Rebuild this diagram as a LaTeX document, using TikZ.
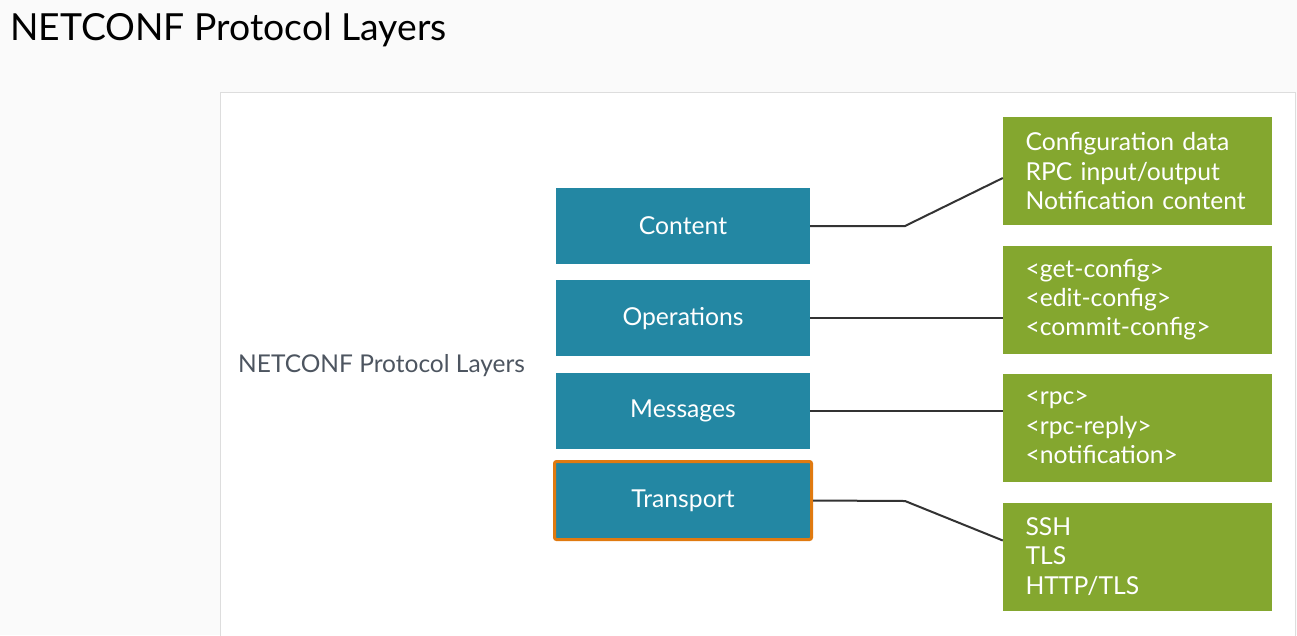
\documentclass[tikz,border=0pt]{standalone}
\usepackage{fontspec}
\setmainfont{Lato}
\usetikzlibrary{positioning}
\definecolor{layerblue}{HTML}{2387A3}
\definecolor{infogreen}{HTML}{84A72F}
\definecolor{hiorange}{HTML}{E07A10}
\definecolor{labelgray}{HTML}{4D5560}
\definecolor{panelgray}{HTML}{DDDDDD}
\tikzset{
  layer/.style ={fill=layerblue, text=white, minimum width=254pt, minimum height=76pt,
                 inner sep=0pt, font=\fontsize{24.7}{29}\selectfont},
  info/.style  ={fill=infogreen, text=white, minimum width=269pt, minimum height=108pt,
                 text width=224pt, inner xsep=22.5pt, align=left,
                 font=\fontsize{24.7}{29.3}\selectfont},
  link/.style  ={line width=2pt, black!80},
}

\begin{document}
\begin{tikzpicture}[x=1pt, y=-1pt]

%--- Background and panel ---
\fill[black!2] (0,0) rectangle (1297,635);
\useasboundingbox (0,0) rectangle (1297,635);
\draw[panelgray, fill=white, line width=1pt] (220,660) -- (220,92) -- (1295,92) -- (1295,660);

%--- Titles ---
\node[anchor=base west, inner sep=0pt, font=\fontsize{37.3}{44}\selectfont] (title) at (10,40)
  {NETCONF Protocol Layers};
\node[anchor=west, inner sep=0pt, text=labelgray, font=\fontsize{24.5}{29}\selectfont] (side) at (238,366)
  {NETCONF Protocol Layers};

%--- Layer boxes ---
\node[layer] (content) at (683,226) {Content};
\node[layer, below=16pt of content] (ops) {Operations};
\node[layer, below=16pt of ops] (msgs) {Messages};
\node[layer, draw=hiorange, line width=3pt, rounded corners=2pt,
      minimum width=257pt, minimum height=78pt] (transport) at (683,500.5) {Transport};

%--- Info boxes ---
\node[info] (cinfo) at (1137.5,171) {Configuration data\\RPC input/output\\Notification content};
\node[info] (oinfo) at (1137.5,299.5) {<get-config>\\<edit-config>\\<commit-config>};
\node[info] (minfo) at (1137.5,427.5) {<rpc>\\<rpc-reply>\\<notification>};
\node[info] (tinfo) at (1137.5,556.5) {SSH\\TLS\\HTTP/TLS};

%--- Connectors ---
\coordinate (ckink) at (905,226);
\coordinate (tkink) at (905,501);
\draw[link] (content.east) -- (ckink) -- ([yshift=-7pt]cinfo.west);
\draw[link] (ops.east) -- (ops.east -| oinfo.west);
\draw[link] (msgs.east) -- (msgs.east -| minfo.west);
\draw[link] (transport.east) -- (tkink) -- ([yshift=16pt]tinfo.west);

\end{tikzpicture}
\end{document}
